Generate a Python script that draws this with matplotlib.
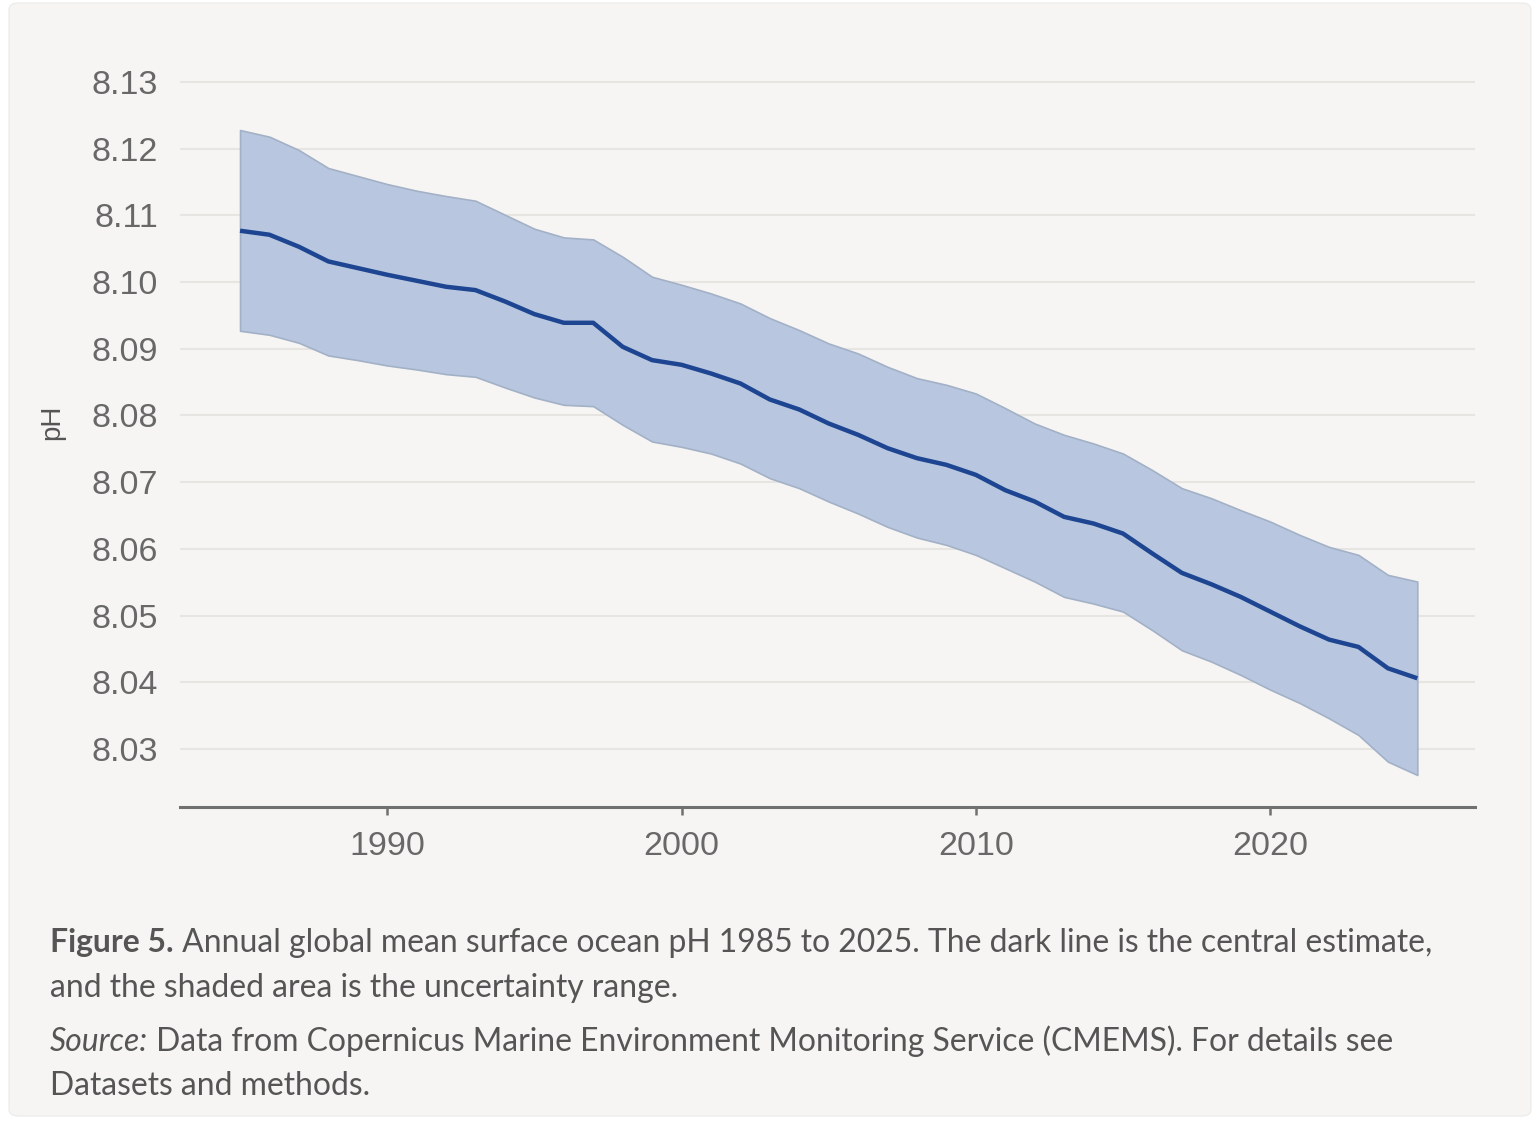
import matplotlib
matplotlib.use("Agg")
import matplotlib.pyplot as plt
from matplotlib.patches import FancyBboxPatch

years = list(range(1985, 2026))
central = [8.1077, 8.1071, 8.1053, 8.1031, 8.1021, 8.1011, 8.1002, 8.0993, 8.0988, 8.0971,
           8.0952, 8.0939, 8.0939, 8.0903, 8.0883, 8.0876, 8.0863, 8.0848, 8.0824, 8.0809,
           8.0788, 8.0771, 8.0751, 8.0736, 8.0726, 8.0711, 8.0688, 8.0671, 8.0648, 8.0638,
           8.0623, 8.0593, 8.0564, 8.0547, 8.0528, 8.0506, 8.0484, 8.0464, 8.0453, 8.0421,
           8.0406]
upper = [8.1228, 8.1218, 8.1198, 8.1171, 8.1159, 8.1147, 8.1137, 8.1129, 8.1122, 8.1101,
         8.1080, 8.1067, 8.1064, 8.1038, 8.1008, 8.0996, 8.0983, 8.0968, 8.0946, 8.0928,
         8.0908, 8.0893, 8.0873, 8.0856, 8.0846, 8.0833, 8.0811, 8.0788, 8.0771, 8.0758,
         8.0743, 8.0718, 8.0691, 8.0676, 8.0658, 8.0641, 8.0621, 8.0603, 8.0591, 8.0561,
         8.0551]
lower = [8.0927, 8.0921, 8.0909, 8.0890, 8.0883, 8.0875, 8.0869, 8.0862, 8.0858, 8.0842,
         8.0827, 8.0816, 8.0814, 8.0786, 8.0761, 8.0753, 8.0743, 8.0728, 8.0706, 8.0691,
         8.0671, 8.0653, 8.0633, 8.0617, 8.0606, 8.0591, 8.0571, 8.0551, 8.0528, 8.0518,
         8.0506, 8.0478, 8.0448, 8.0431, 8.0411, 8.0389, 8.0369, 8.0346, 8.0321, 8.0281,
         8.0261]
y_ticks = [8.03, 8.04, 8.05, 8.06, 8.07, 8.08, 8.09, 8.10, 8.11, 8.12, 8.13]
x_ticks = [1990, 2000, 2010, 2020]
y_label = "pH"
caption1_bold = "Figure 5."
caption1_rest = " Annual global mean surface ocean pH 1985 to 2025. The dark line is the central estimate,"
caption2 = "and the shaded area is the uncertainty range."
source_it = "Source:"
source_rest = " Data from Copernicus Marine Environment Monitoring Service (CMEMS). For details see"
source2 = "Datasets and methods."

W, H = 1540, 1122
fig = plt.figure(figsize=(W / 100, H / 100), dpi=100, facecolor="white")

def fx(px):
    return px / W

def fy(py):
    return 1 - py / H

card = FancyBboxPatch((fx(9), fy(1116)), fx(1522), 1113 / H,
                      boxstyle="round,pad=0,rounding_size=0.006",
                      transform=fig.transFigure, facecolor="#f6f5f3",
                      edgecolor="#eeedeb", linewidth=1, zorder=-5)
fig.patches.append(card)

ax = fig.add_axes([fx(180), fy(807), fx(1475) - fx(180), (807 - 70) / H])
ax.set_facecolor("none")
ax.set_zorder(2)

ax.fill_between(years, lower, upper, facecolor="#b8c7df", edgecolor="#a3b1c7",
                linewidth=1.2, zorder=2)
ax.plot(years, central, color="#1d4591", linewidth=3.2, zorder=3,
        solid_capstyle="butt", solid_joinstyle="round")

ax.set_xlim(1982.96, 2026.96)
ax.set_ylim(8.0213, 8.1318)
ax.set_yticks(y_ticks)
ax.set_yticklabels([f"{v:.2f}" for v in y_ticks])
ax.set_xticks(x_ticks)
ax.set_xticklabels([str(v) for v in x_ticks])

for v in y_ticks:
    ax.axhline(v, color="#e7e5e2", linewidth=1.5, zorder=1)

for s in ["top", "right", "left"]:
    ax.spines[s].set_visible(False)
ax.spines["bottom"].set_color("#707070")
ax.spines["bottom"].set_linewidth(2.2)

ax.tick_params(axis="y", length=0, pad=16, labelsize=24.5, labelcolor="#686868")
ax.tick_params(axis="x", length=6, width=1.8, color="#707070", pad=11,
               labelsize=24.5, labelcolor="#686868")
for lbl in ax.get_xticklabels() + ax.get_yticklabels():
    lbl.set_fontfamily(["Liberation Sans", "DejaVu Sans"])

fig.text(fx(52), fy(422), y_label, rotation=90, ha="center", va="center",
         fontsize=20, color="#555555", family=["Liberation Sans", "DejaVu Sans"])

cap_family = ["Lato", "DejaVu Sans"]
cap_color = "#555555"
fig.canvas.draw()
renderer = fig.canvas.get_renderer()

probe_size = 20
t_probe_a = fig.text(0, 0, caption1_bold, fontsize=probe_size, fontweight="bold", family=cap_family)
t_probe_b = fig.text(0, 0, caption1_rest, fontsize=probe_size, family=cap_family)
wa = t_probe_a.get_window_extent(renderer).width
wb = t_probe_b.get_window_extent(renderer).width
t_probe_a.remove()
t_probe_b.remove()
cap_size = probe_size * (1432 - 50) / (wa + wb)

def two_part(x0, ybase, first, first_kw, rest):
    t1 = fig.text(fx(x0), fy(ybase), first, fontsize=cap_size, family=cap_family,
                  color=cap_color, va="baseline", ha="left", **first_kw)
    fig.canvas.draw()
    bb = t1.get_window_extent(fig.canvas.get_renderer())
    fig.text(bb.x1 / W, fy(ybase), rest, fontsize=cap_size, family=cap_family,
             color=cap_color, va="baseline", ha="left")

two_part(50, 952, caption1_bold, dict(fontweight="bold"), caption1_rest)
fig.text(fx(50), fy(997), caption2, fontsize=cap_size, family=cap_family,
         color=cap_color, va="baseline", ha="left")
two_part(50, 1051, source_it, dict(fontstyle="italic"), source_rest)
fig.text(fx(50), fy(1095), source2, fontsize=cap_size, family=cap_family,
         color=cap_color, va="baseline", ha="left")

fig.savefig("out.png", dpi=100, facecolor="white")
